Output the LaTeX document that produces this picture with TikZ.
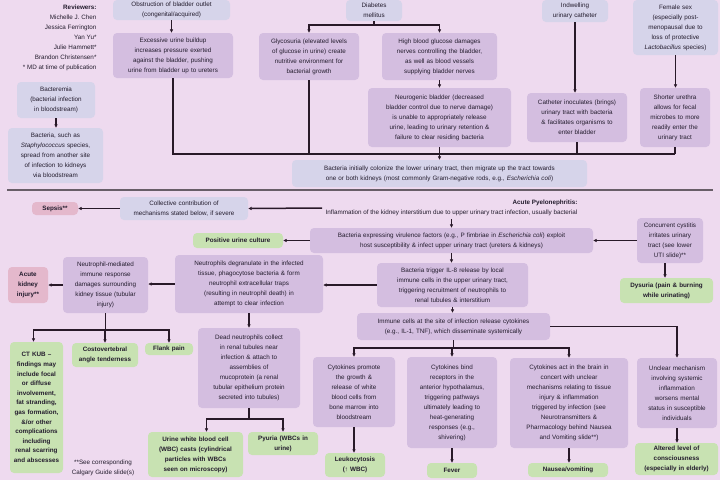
\documentclass[tikz,border=0pt]{standalone}
\usepackage{fontspec}
\setmainfont{Liberation Sans}
\usetikzlibrary{arrows.meta}

\definecolor{bgc}{RGB}{238,218,239}
\definecolor{riskc}{RGB}{214,212,234}
\definecolor{procc}{RGB}{212,190,224}
\definecolor{signc}{RGB}{200,226,178}
\definecolor{complc}{RGB}{228,184,204}
\definecolor{linec}{RGB}{40,25,40}
\definecolor{textc}{RGB}{35,28,45}

\begin{document}
\begin{tikzpicture}[x=1pt,y=-1pt,
  every node/.style={font=\fontsize{6.3}{10}\selectfont, text=textc},
  box/.style={rounded corners=4pt, align=center, inner xsep=2pt, inner ysep=1pt},
  risk/.style={box, fill=riskc},
  proc/.style={box, fill=procc},
  sign/.style={box, fill=signc, font=\fontsize{6.3}{10}\selectfont\bfseries},
  compl/.style={box, fill=complc, font=\fontsize{6.3}{10}\selectfont\bfseries},
  ln/.style={draw=linec, line width=1.5pt},
  arr/.style={ln, -{Latex[length=3.5pt,width=3.8pt]}}]

\fill[bgc] (0,0) rectangle (720,480);

% risk factors
\node[align=right, anchor=north east] (reviewers) at (100,1)
  {\textbf{Reviewers:}\\Michelle J. Chen\\Jessica Ferrington\\Yan Yu*\\Julie Hammett*\\Brandon Christensen*\\* MD at time of publication};
\node[risk, text width=113pt, minimum height=20pt] (obstruct) at (171.5,10) {Obstruction of bladder outlet\\(congenital/acquired)};
\node[proc, text width=116pt, minimum height=45pt] (excess) at (173,55.5) {Excessive urine buildup\\increases pressure exerted\\against the bladder, pushing\\urine from bladder up to ureters};
\node[risk, text width=52pt, minimum height=21pt] (diabetes) at (374,10.5) {Diabetes\\mellitus};
\node[proc, text width=96pt, minimum height=47pt] (glyco) at (309,56.5) {Glycosuria (elevated levels\\of glucose in urine) create\\nutritive environment for\\bacterial growth};
\node[proc, text width=111pt, minimum height=47pt] (highbg) at (439.5,56.5) {High blood glucose damages\\nerves controlling the bladder,\\as well as blood vessels\\supplying bladder nerves};
\node[proc, text width=139pt, minimum height=59pt] (neurogen) at (439.5,117.5) {Neurogenic bladder (decreased\\bladder control due to nerve damage)\\is unable to appropriately release\\urine, leading to urinary retention \&\\failure to clear residing bacteria};
\node[risk, text width=62pt, minimum height=22pt] (indwell) at (575,11) {Indwelling\\urinary catheter};
\node[proc, text width=96pt, minimum height=49pt] (cathinoc) at (577,117.5) {Catheter inoculates (brings)\\urinary tract with bacteria\\\& facilitates organisms to\\enter bladder};
\node[risk, text width=81pt, minimum height=55pt] (female) at (675.5,27.5) {Female sex\\(especially post-\\menopausal due to\\loss of protective\\\textit{Lactobacillus} species)};
\node[proc, text width=66pt, minimum height=59pt] (shorter) at (675,117.5) {Shorter urethra\\allows for fecal\\microbes to more\\readily enter the\\urinary tract};
\node[risk, text width=74pt, minimum height=36pt] (bacteremia) at (56,100) {Bacteremia\\(bacterial infection\\in bloodstream)};
\node[risk, text width=91pt, minimum height=55pt] (hematog) at (55.5,155.5) {Bacteria, such as\\\textit{Staphylococcus} species,\\spread from another site\\of infection to kidneys\\via bloodstream};
\node[risk, text width=291pt, minimum height=27pt] (colonize) at (439.5,173.5) {Bacteria initially colonize the lower urinary tract, then migrate up the tract towards\\one or both kidneys (most commonly Gram-negative rods, e.g., \textit{Escherichia coli})};

\coordinate (dmbus) at (0,25);
\coordinate (busA) at (0,154);
\draw[arr] (obstruct.south) -- (obstruct.south |- excess.north);
\draw[ln] (diabetes.south) -- (diabetes.south |- dmbus);
\draw[arr] (diabetes.south |- dmbus) -| (glyco.north);
\draw[arr] (diabetes.south |- dmbus) -| (highbg.north);
\draw[arr] (highbg.south) -- (neurogen.north);
\draw[arr] (indwell.south) -- (indwell.south |- cathinoc.north);
\draw[arr] (female.south) -- (female.south |- shorter.north);
\draw[arr] (bacteremia.south) -- (bacteremia.south |- hematog.north);
\draw[ln] (excess.south) |- (shorter.south |- busA);
\draw[ln] (glyco.south) -- (glyco.south |- busA);
\draw[ln] (neurogen.south) -- (neurogen.south |- busA);
\draw[ln] (cathinoc.south) -- (cathinoc.south |- busA);
\draw[ln] (shorter.south) -- (shorter.south |- busA);
\draw[arr] (colonize.north |- busA) -- (colonize.north);

\draw[draw=linec!70, line width=1.2pt] (7,190) -- (713,190);

% acute pyelonephritis
\node[align=right] (pyelo) at (451.5,208) {\textbf{Acute Pyelonephritis:}\\Inflammation of the kidney interstitium due to upper urinary tract infection, usually bacterial};
\node[risk, text width=124pt, minimum height=23pt] (collective) at (184,208.5) {Collective contribution of\\mechanisms stated below, if severe};
\node[compl, text width=42pt, minimum height=13pt] (sepsis) at (55,208.5) {Sepsis**};
\node[sign, text width=86pt, minimum height=15pt] (urineculture) at (238,240.5) {Positive urine culture};
\node[proc, text width=279pt, minimum height=25pt] (virulence) at (451.5,240.5) {Bacteria expressing virulence factors (e.g., P fimbriae in \textit{Escherichia coli}) exploit\\host susceptibility \& infect upper urinary tract (ureters \& kidneys)};
\node[proc, text width=62pt, minimum height=45pt] (cystitis) at (670,240.5) {Concurrent cystitis\\irritates urinary\\tract (see lower\\UTI slide)**};
\node[sign, text width=89pt, minimum height=25pt] (dysuria) at (666.5,290.5) {Dysuria (pain \& burning\\while urinating)};
\node[proc, text width=147pt, minimum height=44pt] (il8) at (452.5,285) {Bacteria trigger IL-8 release by local\\immune cells in the upper urinary tract,\\triggering recruitment of neutrophils to\\renal tubules \& interstitium};
\node[proc, text width=144pt, minimum height=58pt] (degran) at (249,284) {Neutrophils degranulate in the infected\\tissue, phagocytose bacteria \& form\\neutrophil extracellular traps\\(resulting in neutrophil death) in\\attempt to clear infection};
\node[proc, text width=81pt, minimum height=56pt] (neutmed) at (105.5,285) {Neutrophil-mediated\\immune response\\damages surrounding\\kidney tissue (tubular\\injury)};
\node[compl, text width=36pt, minimum height=36pt] (aki) at (28,285) {Acute\\kidney\\injury**};
\node[sign, text width=49pt, minimum height=131pt, font=\fontsize{6.3}{9.6}\selectfont\bfseries] (ctkub) at (36.5,407.5) {CT KUB --\\findings may\\include focal\\or diffuse\\involvement,\\fat stranding,\\gas formation,\\\&/or other\\complications\\including\\renal scarring\\and abscesses};
\node[sign, text width=62pt, minimum height=24pt] (cva) at (105,355) {Costovertebral\\angle tenderness};
\node[sign, text width=44pt, minimum height=12pt] (flank) at (169,349) {Flank pain};
\node[proc, text width=98pt, minimum height=80pt] (deadneut) at (249,368) {Dead neutrophils collect\\in renal tubules near\\infection \& attach to\\assemblies of\\mucoprotein (a renal\\tubular epithelium protein\\secreted into tubules)};
\node[sign, text width=91pt, minimum height=45pt] (casts) at (195.5,454.5) {Urine white blood cell\\(WBC) casts (cylindrical\\particles with WBCs\\seen on microscopy)};
\node[sign, text width=66pt, minimum height=23pt] (pyuria) at (283,443.5) {Pyuria (WBCs in\\urine)};
\node[align=center] (footnote) at (103,467.5) {**See corresponding\\Calgary Guide slide(s)};
\node[proc, text width=189pt, minimum height=27pt] (cytorel) at (453.5,326.5) {Immune cells at the site of infection release cytokines\\(e.g., IL-1, TNF), which disseminate systemically};
\node[proc, text width=78pt, minimum height=70pt] (cytowbc) at (354,392) {Cytokines promote\\the growth \&\\release of white\\blood cells from\\bone marrow into\\bloodstream};
\node[sign, text width=56pt, minimum height=24pt] (leuko) at (355,465) {Leukocytosis\\(↑ WBC)};
\node[proc, text width=86pt, minimum height=91pt] (cytohypo) at (452,402.5) {Cytokines bind\\receptors in the\\anterior hypothalamus,\\triggering pathways\\ultimately leading to\\heat-generating\\responses (e.g.,\\shivering)};
\node[sign, text width=46pt, minimum height=15pt] (fever) at (452,470.5) {Fever};
\node[proc, text width=114pt, minimum height=90pt] (cytobrain) at (569,403) {Cytokines act in the brain in\\concert with unclear\\mechanisms relating to tissue\\injury \& inflammation\\triggered by infection (see\\Neurotransmitters \&\\Pharmacology behind Nausea\\and Vomiting slide**)};
\node[sign, text width=76pt, minimum height=14pt] (nausea) at (568,470) {Nausea/vomiting};
\node[proc, text width=76pt, minimum height=70pt] (unclear) at (677,393) {Unclear mechanism\\involving systemic\\inflammation\\worsens mental\\status in susceptible\\individuals};
\node[sign, text width=79pt, minimum height=32pt] (loc) at (676.5,459) {Altered level of\\consciousness\\(especially in elderly)};

\coordinate (nmbus) at (0,330);
\coordinate (dnbus) at (0,419);
\coordinate (crbus) at (0,348);
\draw[arr] (pyelo.west) -- (collective.east);
\draw[arr] (collective.west) -- (sepsis.east);
\draw[arr] (pyelo.south) -- (pyelo.south |- virulence.north);
\draw[arr] (virulence.west) -- (urineculture.east);
\draw[arr] (cystitis.west) -- (virulence.east);
\draw[arr] ([xshift=-5pt]cystitis.south) -- ([xshift=-5pt]cystitis.south |- dysuria.north);
\draw[arr] (virulence.south) -- (virulence.south |- il8.north);
\draw[arr] (il8.west) -- (il8.west -| degran.east);
\draw[arr] (degran.west) -- (degran.west -| neutmed.east);
\draw[arr] (neutmed.west) -- (aki.east);
\draw[ln] (neutmed.south) -- (neutmed.south |- nmbus);
\draw[arr] (neutmed.south |- nmbus) -| ([xshift=-3pt]ctkub.north);
\draw[arr] (neutmed.south |- nmbus) -| (cva.north);
\draw[arr] (neutmed.south |- nmbus) -| (flank.north);
\draw[arr] (degran.south) -- (deadneut.north);
\draw[ln] (deadneut.south) -- (deadneut.south |- dnbus);
\draw[arr] (deadneut.south |- dnbus) -| ([xshift=11pt]casts.north);
\draw[arr] (deadneut.south |- dnbus) -| (pyuria.north);
\draw[arr] (il8.south) -- (il8.south |- cytorel.north);
\draw[ln] (cytorel.south) -- (cytorel.south |- crbus);
\draw[arr] (cytorel.south |- crbus) -| (cytowbc.north);
\draw[arr] (cytorel.south |- crbus) -| (cytohypo.north);
\draw[arr] (cytorel.south |- crbus) -| (cytobrain.north);
\draw[arr] (cytorel.east) -| (unclear.north);
\draw[arr] (cytowbc.south) -- (cytowbc.south |- leuko.north);
\draw[arr] (cytohypo.south) -- (fever.north);
\draw[arr] (cytobrain.south) -- (cytobrain.south |- nausea.north);
\draw[arr] (unclear.south) -- (unclear.south |- loc.north);
\end{tikzpicture}
\end{document}
